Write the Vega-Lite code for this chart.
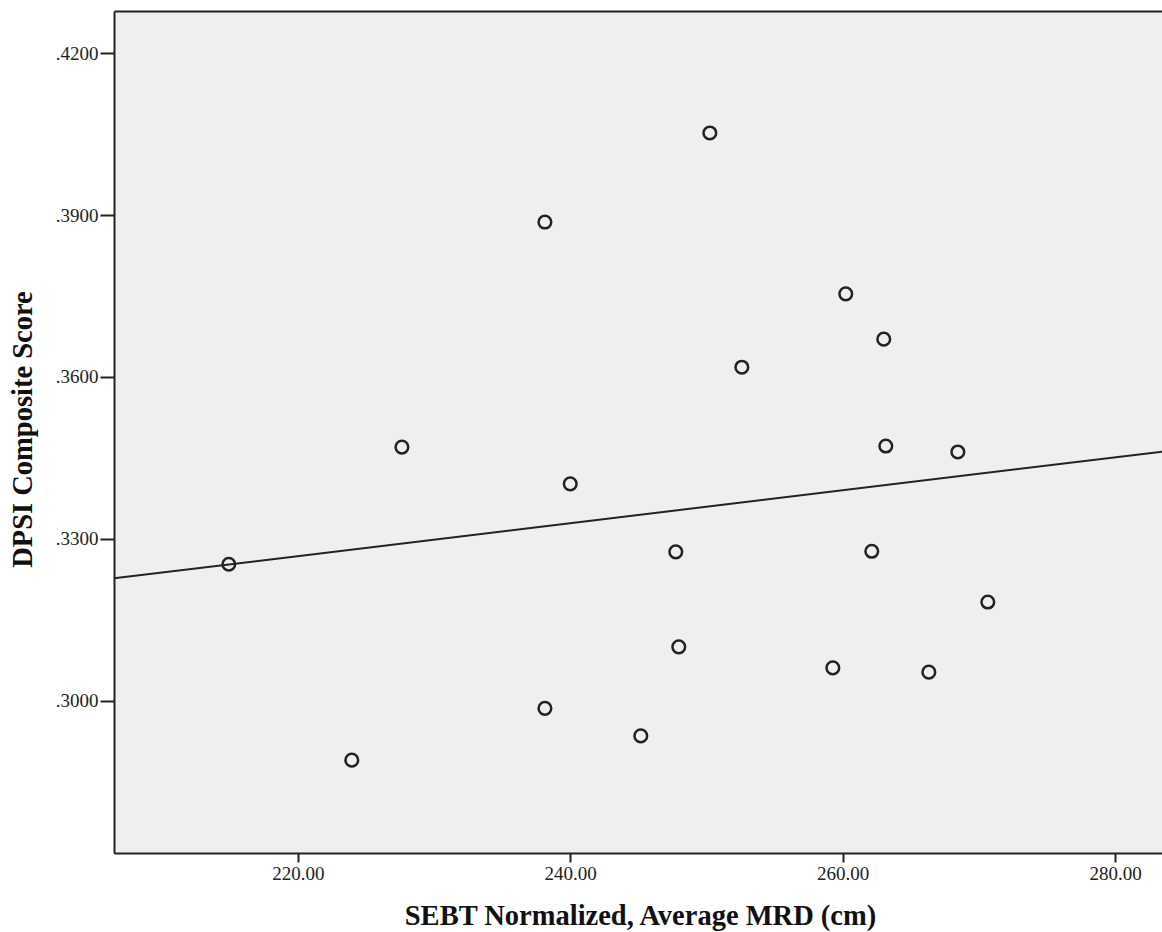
{
  "$schema": "https://vega.github.io/schema/vega-lite/v6.json",
  "autosize": {"type": "none"},
  "padding": {"left": 114, "top": 11, "right": 0, "bottom": 79},
  "width": 1048,
  "height": 842,
  "background": "white",
  "config": {
    "view": {"stroke": null, "fill": "#efefef"},
    "font": "Liberation Serif",
    "axis": {
      "grid": false,
      "domainColor": "#222222",
      "domainWidth": 2,
      "tickColor": "#222222",
      "tickWidth": 2,
      "labelFont": "Liberation Serif",
      "labelFontSize": 19,
      "labelColor": "#222222",
      "titleFont": "Liberation Serif",
      "titleFontSize": 28.5,
      "titleFontWeight": "bold",
      "titleColor": "#111111"
    }
  },
  "data": {
    "values": [
      {"sebt": 214.93, "dpsi": 0.3253},
      {"sebt": 223.96, "dpsi": 0.2890},
      {"sebt": 227.64, "dpsi": 0.3470},
      {"sebt": 238.14, "dpsi": 0.3887},
      {"sebt": 238.14, "dpsi": 0.2986},
      {"sebt": 240.00, "dpsi": 0.3402},
      {"sebt": 245.18, "dpsi": 0.2935},
      {"sebt": 247.75, "dpsi": 0.3276},
      {"sebt": 247.97, "dpsi": 0.3100},
      {"sebt": 250.25, "dpsi": 0.4052},
      {"sebt": 252.60, "dpsi": 0.3618},
      {"sebt": 259.28, "dpsi": 0.3061},
      {"sebt": 260.23, "dpsi": 0.3754},
      {"sebt": 262.14, "dpsi": 0.3277},
      {"sebt": 263.02, "dpsi": 0.3670},
      {"sebt": 263.17, "dpsi": 0.3472},
      {"sebt": 266.33, "dpsi": 0.3053},
      {"sebt": 268.46, "dpsi": 0.3461},
      {"sebt": 270.66, "dpsi": 0.3183}
    ]
  },
  "resolve": {"axis": {"x": "independent"}},
  "layer": [
    {
      "mark": {"type": "point", "shape": "circle", "filled": false, "size": 160, "strokeWidth": 2.5, "color": "#222222", "opacity": 1},
      "encoding": {
        "x": {
          "field": "sebt", "type": "quantitative",
          "scale": {"domain": [206.5, 283.45], "nice": false, "zero": false},
          "axis": {
            "title": "SEBT Normalized, Average MRD (cm)",
            "values": [220, 240, 260, 280],
            "format": ".2f",
            "tickSize": 9,
            "labelPadding": 2,
            "titleX": 526,
            "titleY": 62,
            "titleBaseline": "middle"
          }
        },
        "y": {
          "field": "dpsi", "type": "quantitative",
          "scale": {"domain": [0.2718, 0.4278], "nice": false, "zero": false},
          "axis": {
            "title": "DPSI Composite Score",
            "values": [0.30, 0.33, 0.36, 0.39, 0.42],
            "labelExpr": "replace(format(datum.value, '.4f'), '0.', '.')",
            "tickSize": 14,
            "labelPadding": 2,
            "titleX": -92,
            "titleY": 418,
            "titleAngle": -90,
            "titleAlign": "center",
            "titleBaseline": "middle"
          }
        }
      }
    },
    {
      "transform": [
        {"regression": "dpsi", "on": "sebt", "extent": [206.5, 283.45]}
      ],
      "mark": {"type": "line", "color": "#222222", "strokeWidth": 2, "clip": true},
      "encoding": {
        "x": {
          "field": "sebt", "type": "quantitative",
          "scale": {"domain": [206.5, 283.45], "nice": false, "zero": false},
          "axis": {"orient": "top", "labels": false, "ticks": false, "title": null, "domain": true}
        },
        "y": {"field": "dpsi", "type": "quantitative"}
      }
    }
  ]
}
